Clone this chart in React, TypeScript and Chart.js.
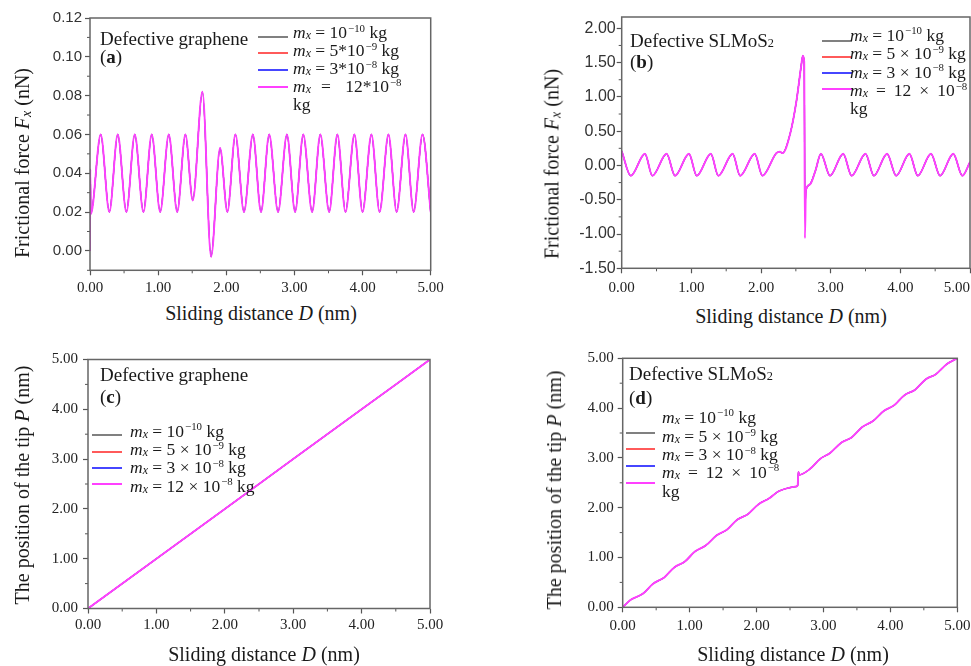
import React, { useEffect, useRef } from 'react';
import { Chart, registerables } from 'chart.js';

Chart.register(...registerables);

const SERIF = "'Liberation Serif', 'Times New Roman', serif";
const SANS = "'Liberation Sans', Arial, sans-serif";

// ---- series (mass of the tip support) ----
const massLabels = ['m_x = 10^-10 kg', 'm_x = 5x10^-9 kg', 'm_x = 3x10^-8 kg', 'm_x = 12x10^-8 kg'];
const seriesColors = ['#808080', '#ff5a5a', '#4646ff', '#ff40ff'];
const seriesWidths = [1.2, 1.2, 1.2, 1.9];

// ---- x tick range ----
const xMinD = 0;
const xMaxD = 5;

// ---- (a) Defective graphene: frictional force ----
const grapheneD = [0, 0.004, 0.012, 0.157, 0.284, 0.407, 0.534, 0.657, 0.784, 0.906, 1.03, 1.156, 1.28, 1.40, 1.508, 1.65, 1.777, 1.909, 2.016, 2.134, 2.26, 2.39, 2.51, 2.63, 2.76, 2.89, 3.01, 3.13, 3.26, 3.38, 3.51, 3.63, 3.75, 3.88, 4.00, 4.13, 4.25, 4.38, 4.50, 4.63, 4.75, 4.88, 5.00];
const grapheneFx = [0.000, 0.042, 0.019, 0.060, 0.020, 0.060, 0.020, 0.060, 0.020, 0.060, 0.020, 0.060, 0.020, 0.060, 0.026, 0.082, -0.003, 0.053, 0.020, 0.060, 0.020, 0.060, 0.020, 0.060, 0.020, 0.060, 0.020, 0.060, 0.020, 0.060, 0.020, 0.060, 0.020, 0.060, 0.020, 0.060, 0.020, 0.060, 0.020, 0.060, 0.020, 0.060, 0.020];

// ---- (b) Defective SLMoS2: frictional force ----
const mos2D = [0, 0.13, 0.334, 0.44, 0.645, 0.765, 0.966, 1.077, 1.28, 1.387, 1.593, 1.70, 1.91, 2.02, 2.22, 2.27, 2.31, 2.42, 2.51, 2.575, 2.60, 2.62, 2.63, 2.645, 2.70, 2.78, 2.86, 2.99, 3.18, 3.30, 3.50, 3.62, 3.81, 3.94, 4.13, 4.25, 4.44, 4.57, 4.76, 4.89, 5.00];
const mos2FxLight = [0.21, -0.15, 0.17, -0.15, 0.17, -0.15, 0.17, -0.15, 0.17, -0.15, 0.17, -0.15, 0.17, -0.15, 0.18, 0.20, 0.18, 0.47, 0.95, 1.44, 1.60, 1.51, -0.62, -0.36, -0.28, -0.08, 0.17, -0.15, 0.17, -0.15, 0.17, -0.15, 0.17, -0.15, 0.17, -0.15, 0.17, -0.15, 0.17, -0.15, 0.05];
const mos2FxHeavy = [0.21, -0.15, 0.17, -0.15, 0.17, -0.15, 0.17, -0.15, 0.17, -0.15, 0.17, -0.15, 0.17, -0.15, 0.18, 0.20, 0.18, 0.47, 0.95, 1.44, 1.60, 1.51, -1.06, -0.36, -0.28, -0.08, 0.17, -0.15, 0.17, -0.15, 0.17, -0.15, 0.17, -0.15, 0.17, -0.15, 0.17, -0.15, 0.17, -0.15, 0.05];

// ---- (c) Defective graphene: tip position ----
const posGrapheneD = [0, 1, 2, 3, 4, 5];
const posGrapheneP = [0, 1, 2, 3, 4, 5];

// ---- (d) Defective SLMoS2: tip position ----
const posMos2D = [0, 0.12, 0.30, 0.45, 0.62, 0.77, 0.93, 1.08, 1.24, 1.40, 1.56, 1.71, 1.87, 2.03, 2.19, 2.33, 2.60, 2.615, 2.625, 2.64, 2.80, 2.95, 3.10, 3.27, 3.42, 3.58, 3.74, 3.90, 4.06, 4.21, 4.37, 4.53, 4.68, 4.84, 5.00];
const posMos2P = [0, 0.15, 0.27, 0.47, 0.60, 0.80, 0.92, 1.12, 1.24, 1.44, 1.56, 1.76, 1.87, 2.07, 2.19, 2.33, 2.43, 2.45, 2.72, 2.66, 2.78, 2.98, 3.10, 3.31, 3.41, 3.62, 3.74, 3.94, 4.06, 4.26, 4.37, 4.58, 4.68, 4.88, 5.00];

const pts = (xs: number[], ys: number[]) => xs.map((x, i) => ({ x, y: ys[i] }));

type Area = { left: number; top: number; right: number; bottom: number };
type PanelSpec = {
  left: number; top: number; width: number; height: number;
  area: Area;
  yMin: number; yMax: number; yStep: number; yMinor: number;
  yFamily: string; ySize: number; yColor: string; yPad: number; xPad: number;
  hideLastX?: boolean;
  series: { data: { x: number; y: number }[] }[];
};

const framePlugin = {
  id: 'frame',
  afterDraw(chart: any, _args: any, opts: any) {
    const { ctx, chartArea: a } = chart;
    const xs = chart.scales.x;
    const ys = chart.scales.y;
    ctx.save();
    ctx.strokeStyle = '#555';
    ctx.lineWidth = 1;
    ctx.beginPath();
    const minor = (min: number, max: number, step: number, major: number, cb: (v: number) => void) => {
      for (let k = Math.ceil(min / step - 1e-9); k * step <= max + 1e-9; k++) {
        const v = k * step;
        if (Math.abs(v / major - Math.round(v / major)) > 1e-6) cb(v);
      }
    };
    minor(xs.min, xs.max, opts.xMinor, opts.xMajor, (v) => {
      const p = xs.getPixelForValue(v);
      ctx.moveTo(p, a.bottom);
      ctx.lineTo(p, a.bottom + 3);
    });
    minor(ys.min, ys.max, opts.yMinor, opts.yMajor, (v) => {
      const p = ys.getPixelForValue(v);
      ctx.moveTo(a.left, p);
      ctx.lineTo(a.left - 3, p);
    });
    ctx.stroke();
    ctx.strokeStyle = '#666';
    ctx.lineWidth = 1.5;
    ctx.strokeRect(a.left, a.top, a.right - a.left, a.bottom - a.top);
    if (opts.lastXLabel) {
      ctx.fillStyle = '#222';
      ctx.font = `15px ${SERIF}`;
      ctx.textAlign = 'right';
      ctx.textBaseline = 'middle';
      ctx.fillText(opts.lastXLabel, a.right, a.bottom + 5 + opts.xPad + 9);
    }
    ctx.restore();
  },
};

function buildConfig(s: PanelSpec): any {
  const a = s.area;
  const grid = { display: true, drawOnChartArea: false, drawTicks: true, tickLength: 5, tickColor: '#555', tickWidth: 1.2 };
  return {
    type: 'line',
    data: {
      datasets: s.series.map((ser, i) => ({
        label: massLabels[i],
        data: ser.data,
        borderColor: seriesColors[i],
        backgroundColor: seriesColors[i],
        borderWidth: seriesWidths[i],
        pointRadius: 0,
        fill: false,
        cubicInterpolationMode: 'monotone',
        order: s.series.length - i,
      })),
    },
    options: {
      responsive: false,
      animation: false,
      events: [],
      layout: { padding: { top: a.top, right: s.width - a.right, left: 0, bottom: 0 } },
      plugins: {
        legend: { display: false },
        tooltip: { enabled: false },
        frame: { xMinor: 0.5, xMajor: 1, yMinor: s.yMinor, yMajor: s.yStep, xPad: s.xPad, lastXLabel: s.hideLastX ? xMaxD.toFixed(2) : '' },
      },
      scales: {
        x: {
          type: 'linear', min: xMinD, max: xMaxD,
          afterFit: (sc: any) => { sc.height = s.height - a.bottom; sc.paddingLeft = 0; sc.paddingRight = 0; },
          ticks: {
            stepSize: 1, includeBounds: false, maxRotation: 0, minRotation: 0, autoSkip: false,
            padding: s.xPad, color: '#222', font: { family: SERIF, size: 15 },
            callback: (v: number) => (s.hideLastX && Math.abs(v - xMaxD) < 1e-9 ? '' : Number(v).toFixed(2)),
          },
          grid, border: { display: false },
        },
        y: {
          type: 'linear', min: s.yMin, max: s.yMax,
          afterFit: (sc: any) => { sc.width = a.left; sc.paddingTop = 0; sc.paddingBottom = 0; },
          ticks: {
            stepSize: s.yStep, includeBounds: false, autoSkip: false,
            padding: s.yPad, color: s.yColor, font: { family: s.yFamily, size: s.ySize },
            callback: (v: number) => Number(v).toFixed(2),
          },
          grid, border: { display: false },
        },
      },
    },
    plugins: [framePlugin],
  };
}

const panels: PanelSpec[] = [
  {
    left: 0, top: 0, width: 470, height: 300,
    area: { left: 90, top: 18, right: 430.7, bottom: 270.3 },
    yMin: -0.01, yMax: 0.12, yStep: 0.02, yMinor: 0.01,
    yFamily: SANS, ySize: 15, yColor: '#333', yPad: 3, xPad: 4,
    series: [0, 1, 2, 3].map(() => ({ data: pts(grapheneD, grapheneFx) })),
  },
  {
    left: 530, top: 0, width: 441, height: 300,
    area: { left: 91.7, top: 17, right: 440, bottom: 268.3 },
    yMin: -1.5, yMax: 2.165, yStep: 0.5, yMinor: 0.25,
    yFamily: SANS, ySize: 16, yColor: '#333', yPad: 1, xPad: 6, hideLastX: true,
    series: [
      { data: pts(mos2D, mos2FxLight) },
      { data: pts(mos2D, mos2FxLight) },
      { data: pts(mos2D, mos2FxLight) },
      { data: pts(mos2D, mos2FxHeavy) },
    ],
  },
  {
    left: 0, top: 330, width: 470, height: 336,
    area: { left: 88, top: 29.5, right: 430, bottom: 278.5 },
    yMin: 0, yMax: 5, yStep: 1, yMinor: 0.5,
    yFamily: SERIF, ySize: 15, yColor: '#222', yPad: 5, xPad: 3,
    series: [0, 1, 2, 3].map(() => ({ data: pts(posGrapheneD, posGrapheneP) })),
  },
  {
    left: 530, top: 330, width: 441, height: 336,
    area: { left: 92.7, top: 28.3, right: 427.3, bottom: 277.3 },
    yMin: 0, yMax: 5, yStep: 1, yMinor: 0.5,
    yFamily: SERIF, ySize: 15, yColor: '#222', yPad: 4, xPad: 5,
    series: [0, 1, 2, 3].map(() => ({ data: pts(posMos2D, posMos2P) })),
  },
];

function ChartPanel({ spec }: { spec: PanelSpec }) {
  const ref = useRef<HTMLCanvasElement>(null);
  useEffect(() => {
    const chart = new Chart(ref.current as HTMLCanvasElement, buildConfig(spec));
    return () => chart.destroy();
  }, [spec]);
  return (
    <canvas
      ref={ref}
      width={spec.width}
      height={spec.height}
      style={{ position: 'absolute', left: spec.left, top: spec.top, width: spec.width, height: spec.height }}
    />
  );
}

// ---------- rich text helpers ----------
const Txt = ({ x, y, size, center, children, bold }: any) => (
  <div
    style={{
      position: 'absolute', left: x, top: y - size / 2, fontSize: size, lineHeight: `${size}px`,
      whiteSpace: 'pre', fontFamily: SERIF, color: '#1a1a1a', fontWeight: bold ? 'bold' : 'normal',
      transform: center ? 'translateX(-50%)' : undefined,
    }}
  >
    {children}
  </div>
);

const VTxt = ({ x, y, size, children }: any) => (
  <div
    style={{
      position: 'absolute', left: x, top: y, fontSize: size, lineHeight: `${size}px`,
      whiteSpace: 'pre', fontFamily: SERIF, color: '#1a1a1a',
      transform: 'translate(-50%, -50%) rotate(-90deg)',
    }}
  >
    {children}
  </div>
);

const Sup = ({ children }: any) => (
  <span style={{ fontSize: '0.62em', position: 'relative', top: '-0.6em', marginLeft: 1 }}>{children}</span>
);
const Mx = () => (
  <>
    <i>m</i>
    <span style={{ fontSize: '0.68em', fontStyle: 'italic', position: 'relative', top: '0.1em' }}>x</span>
  </>
);
const Fx = () => (
  <>
    <i>F</i>
    <span style={{ fontSize: '0.7em', fontStyle: 'italic', position: 'relative', top: '0.15em' }}>x</span>
  </>
);
const MoS2 = () => (
  <>
    SLMoS<span style={{ fontSize: '0.65em' }}>2</span>
  </>
);
const LegLine = ({ x, y, w, color }: any) => (
  <div style={{ position: 'absolute', left: x, top: y - 1, width: w, height: 2, background: color }} />
);

const XTitle = ({ x, y }: any) => (
  <Txt x={x} y={y} size={20} center>
    Sliding distance <i>D</i> (nm)
  </Txt>
);

export default function App() {
  const LS = 17.5;
  return (
    <div style={{ position: 'absolute', left: 0, top: 0, width: 971, height: 666, background: '#fff', overflow: 'hidden' }}>
      {panels.map((p, i) => (
        <ChartPanel key={i} spec={p} />
      ))}

      {/* ---- (a) ---- */}
      <Txt x={100} y={38} size={19}>Defective graphene</Txt>
      <Txt x={100} y={56.5} size={19}>(<b>a</b>)</Txt>
      {[36.7, 52.7, 70, 87.3].map((y, i) => (
        <LegLine key={i} x={258} y={y} w={30} color={seriesColors[i]} />
      ))}
      <Txt x={293} y={33} size={LS}><Mx /> = 10<Sup>−10</Sup> kg</Txt>
      <Txt x={293} y={51} size={LS}><Mx /> = 5*10<Sup>−9</Sup> kg</Txt>
      <Txt x={293} y={69} size={LS}><Mx /> = 3*10<Sup>−8</Sup> kg</Txt>
      <Txt x={293} y={87} size={LS}><Mx /><span style={{ margin: '0 10px' }}>=</span> 12*10<Sup>−8</Sup></Txt>
      <Txt x={293} y={105} size={LS}>kg</Txt>
      <VTxt x={23} y={162.5} size={20}>Frictional force <Fx /> (nN)</VTxt>
      <XTitle x={261} y={312.5} />

      {/* ---- (b) ---- */}
      <Txt x={630} y={40.5} size={19}>Defective <MoS2 /></Txt>
      <Txt x={630} y={61.5} size={19}>(<b>b</b>)</Txt>
      {[40.7, 56.7, 72.7, 89.3].map((y, i) => (
        <LegLine key={i} x={822} y={y} w={30} color={seriesColors[i]} />
      ))}
      <Txt x={850} y={35.5} size={LS}><Mx /> = 10<Sup>−10</Sup> kg</Txt>
      <Txt x={850} y={54} size={LS}><Mx /> = 5 × 10<Sup>−9</Sup> kg</Txt>
      <Txt x={850} y={72.5} size={LS}><Mx /> = 3 × 10<Sup>−8</Sup> kg</Txt>
      <Txt x={850} y={91} size={LS}><Mx /><span style={{ margin: '0 8px' }}>=</span>12<span style={{ margin: '0 8px' }}>×</span>10<Sup>−8</Sup></Txt>
      <Txt x={850} y={109} size={LS}>kg</Txt>
      <VTxt x={553} y={163.5} size={20}>Frictional force <Fx /> (nN)</VTxt>
      <XTitle x={791} y={315.5} />

      {/* ---- (c) ---- */}
      <Txt x={100} y={374.5} size={19}>Defective graphene</Txt>
      <Txt x={100} y={396.5} size={19}>(<b>c</b>)</Txt>
      {[435, 451.7, 467.7, 484].map((y, i) => (
        <LegLine key={i} x={92} y={y} w={30} color={seriesColors[i]} />
      ))}
      <Txt x={130} y={431.7} size={LS}><Mx /> = 10<Sup>−10</Sup> kg</Txt>
      <Txt x={130} y={450} size={LS}><Mx /> = 5 × 10<Sup>−9</Sup> kg</Txt>
      <Txt x={130} y={468} size={LS}><Mx /> = 3 × 10<Sup>−8</Sup> kg</Txt>
      <Txt x={130} y={486.5} size={LS}><Mx /> = 12 × 10<Sup>−8</Sup> kg</Txt>
      <VTxt x={21.5} y={485} size={20}>The position of the tip <i>P</i> (nm)</VTxt>
      <XTitle x={264} y={654} />

      {/* ---- (d) ---- */}
      <Txt x={629} y={373.5} size={19}>Defective <MoS2 /></Txt>
      <Txt x={629} y={397} size={19}>(<b>d</b>)</Txt>
      {[433.3, 449.3, 466, 483.3].map((y, i) => (
        <LegLine key={i} x={626} y={y} w={29} color={seriesColors[i]} />
      ))}
      <Txt x={662} y={417.5} size={LS}><Mx /> = 10<Sup>−10</Sup> kg</Txt>
      <Txt x={662} y={437} size={LS}><Mx /> = 5 × 10<Sup>−9</Sup> kg</Txt>
      <Txt x={662} y={455} size={LS}><Mx /> = 3 × 10<Sup>−8</Sup> kg</Txt>
      <Txt x={662} y={472.5} size={LS}><Mx /><span style={{ margin: '0 8px' }}>=</span>12<span style={{ margin: '0 8px' }}>×</span>10<Sup>−8</Sup></Txt>
      <Txt x={662} y={492} size={LS}>kg</Txt>
      <VTxt x={554} y={490} size={20}>The position of the tip <i>P</i> (nm)</VTxt>
      <XTitle x={793} y={654} />
    </div>
  );
}
